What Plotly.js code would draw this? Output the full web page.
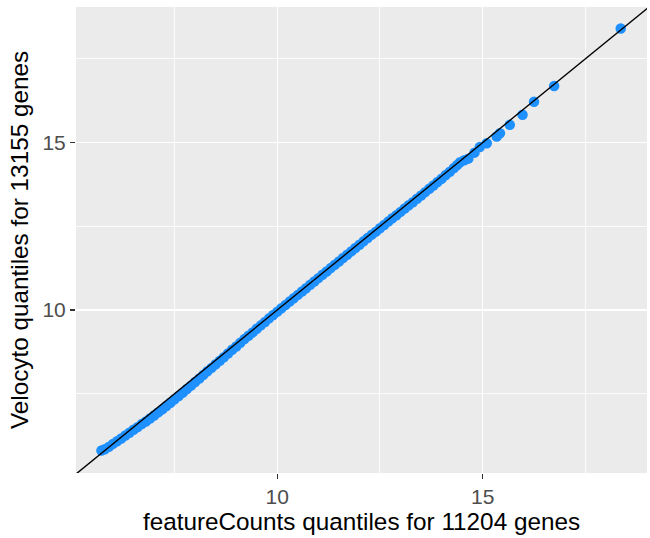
<!DOCTYPE html>
<html>
<head>
<meta charset="utf-8">
<script src="https://cdn.plot.ly/plotly-3.0.1.min.js"></script>
<style>html,body{margin:0;padding:0;background:#fff;}#chart{width:650px;height:538px;}</style>
</head>
<body>
<div id="chart"></div>
<script>
// featureCounts quantiles (x) vs Velocyto quantiles (y)
var featureCountsQ = [5.72, 5.80, 5.90, 6.00, 6.10, 6.20, 6.30, 6.40, 6.50, 6.60, 6.70, 6.80, 6.90, 7.00, 7.10, 7.20, 7.30, 7.40, 7.50, 7.60, 7.70, 7.80, 7.90, 8.00, 8.10, 8.20, 8.30, 8.40, 8.50, 8.60, 8.70, 8.80, 8.90, 9.00, 9.10, 9.20, 9.30, 9.40, 9.50, 9.60, 9.70, 9.80, 9.90, 10.00, 10.10, 10.20, 10.30, 10.40, 10.50, 10.60, 10.70, 10.80, 10.90, 11.00, 11.10, 11.20, 11.30, 11.40, 11.50, 11.60, 11.70, 11.80, 11.90, 12.00, 12.10, 12.20, 12.30, 12.40, 12.50, 12.60, 12.70, 12.80, 12.90, 13.00, 13.10, 13.20, 13.30, 13.40, 13.50, 13.60, 13.70, 13.80, 13.90, 14.00, 14.10, 14.20, 14.30, 14.38, 14.45, 14.55, 14.65, 14.80, 14.93, 15.10, 15.34, 15.42, 15.66, 15.97, 16.25, 16.74, 18.36];
var velocytoQ = [5.80, 5.84, 5.91, 6.00, 6.08, 6.16, 6.25, 6.33, 6.42, 6.50, 6.59, 6.67, 6.76, 6.85, 6.94, 7.03, 7.13, 7.23, 7.33, 7.43, 7.53, 7.64, 7.74, 7.85, 7.95, 8.06, 8.17, 8.27, 8.38, 8.48, 8.59, 8.70, 8.81, 8.91, 9.02, 9.13, 9.23, 9.33, 9.44, 9.54, 9.64, 9.75, 9.85, 9.95, 10.05, 10.15, 10.25, 10.35, 10.45, 10.55, 10.65, 10.75, 10.85, 10.95, 11.05, 11.15, 11.25, 11.35, 11.45, 11.55, 11.65, 11.75, 11.85, 11.95, 12.05, 12.15, 12.25, 12.34, 12.44, 12.54, 12.64, 12.74, 12.83, 12.93, 13.03, 13.13, 13.22, 13.32, 13.42, 13.52, 13.62, 13.72, 13.82, 13.92, 14.03, 14.13, 14.24, 14.33, 14.41, 14.47, 14.52, 14.70, 14.87, 14.98, 15.18, 15.28, 15.53, 15.83, 16.22, 16.69, 18.41];
// reference line y = intercept + slope * x
var ablineIntercept = 0;
var ablineSlope = 1;
var ablineX = [4, 20];
var xTickVals = [10, 15];
var yTickVals = [10, 15];
var xTitle = "featureCounts quantiles for 11204 genes";
var yTitle = "Velocyto quantiles for 13155 genes";

var ablineY = ablineX.map(function (v) { return ablineIntercept + ablineSlope * v; });

var traces = [
  {
    x: featureCountsQ, y: velocytoQ, type: "scatter", mode: "markers",
    marker: { color: "#1E90FF", size: 10.5, line: { width: 0 } },
    hoverinfo: "skip", showlegend: false
  },
  {
    x: ablineX, y: ablineY, type: "scatter", mode: "lines",
    line: { color: "#000000", width: 1.4 },
    hoverinfo: "skip", showlegend: false
  }
];

var fontFam = "Liberation Sans, Arial, sans-serif";
var layout = {
  width: 650, height: 538,
  margin: { l: 76, r: 3, t: 7, b: 65 },
  paper_bgcolor: "#FFFFFF",
  plot_bgcolor: "#EBEBEB",
  font: { family: fontFam },
  showlegend: false,
  xaxis: {
    range: [5.10, 19.0],
    tickvals: xTickVals,
    ticktext: xTickVals.map(String),
    ticks: "outside", ticklen: 5, tickwidth: 1.2, tickcolor: "#333333",
    tickfont: { size: 21, color: "#4D4D4D", family: fontFam },
    showgrid: true, gridcolor: "#FFFFFF", gridwidth: 1.5,
    minor: { dtick: 2.5, tick0: 0, showgrid: true, gridcolor: "#FFFFFF", gridwidth: 0.8, ticks: "" },
    zeroline: false, showline: false,
    title: { text: xTitle, font: { size: 24.3, color: "#000000", family: fontFam }, standoff: 4 }
  },
  yaxis: {
    range: [5.13, 19.05],
    tickvals: yTickVals,
    ticktext: yTickVals.map(String),
    ticks: "outside", ticklen: 5, tickwidth: 1.2, tickcolor: "#333333",
    tickfont: { size: 21, color: "#4D4D4D", family: fontFam },
    showgrid: true, gridcolor: "#FFFFFF", gridwidth: 1.5,
    minor: { dtick: 2.5, tick0: 0, showgrid: true, gridcolor: "#FFFFFF", gridwidth: 0.8, ticks: "" },
    zeroline: false, showline: false,
    title: { text: yTitle, font: { size: 24.3, color: "#000000", family: fontFam }, standoff: 6 }
  }
};

Plotly.newPlot("chart", traces, layout, { displayModeBar: false, staticPlot: true });
</script>
</body>
</html>
